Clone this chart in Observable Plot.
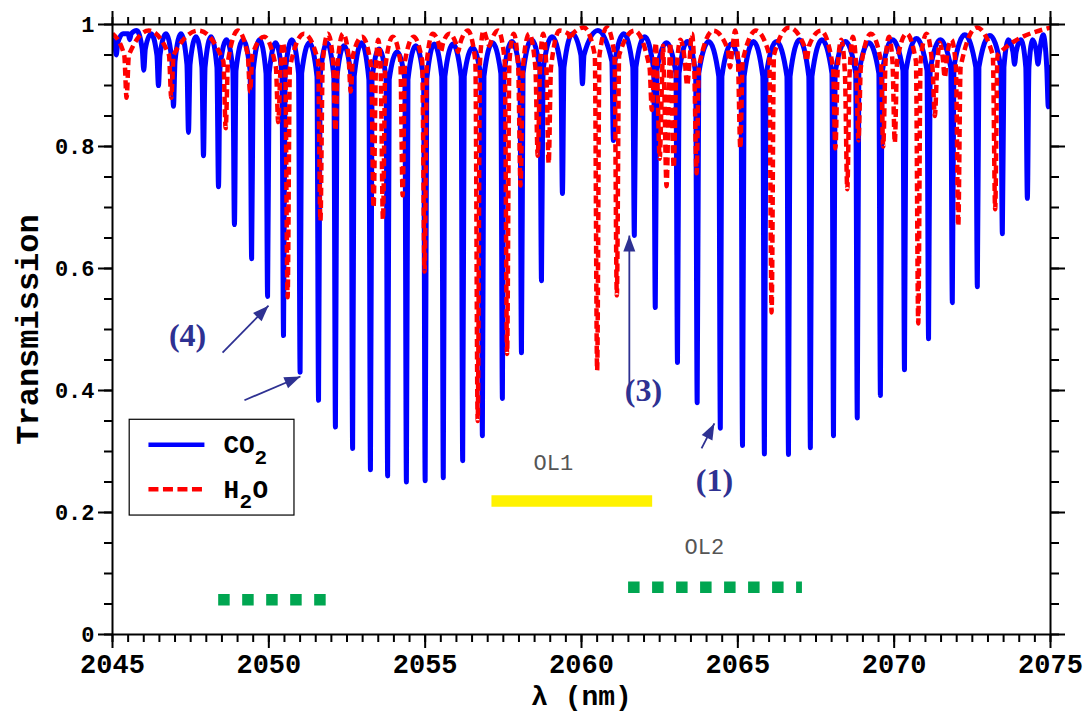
<!DOCTYPE html>
<html>
<head>
<meta charset="utf-8">
<script src="https://cdn.jsdelivr.net/npm/d3@7"></script>
<script src="https://cdn.jsdelivr.net/npm/@observablehq/plot@0.6"></script>
<style>
  body { margin: 0; background: #fff; }
  #chart svg { display: block; }
</style>
</head>
<body>
<div id="chart"></div>
<script>
// ---------- axis ticks ----------
const xMajor = [2045, 2050, 2055, 2060, 2065, 2070, 2075];
const xTickLabels = ["2045", "2050", "2055", "2060", "2065", "2070", "2075"];
const yMajor = [0, 0.2, 0.4, 0.6, 0.8, 1];
const yTickLabels = ["0", "0.2", "0.4", "0.6", "0.8", "1"];

// ---------- CO2 absorption lines (centre, minimum, wing level, maxima between lines) ----------
const co2Line = [2045.12, 2045.55, 2046.0, 2046.47, 2046.95, 2047.43, 2047.91, 2048.39, 2048.9, 2049.45,
  2049.96, 2050.47, 2051.0, 2051.59, 2052.13, 2052.68, 2053.25, 2053.8, 2054.4, 2055.0,
  2055.58, 2056.2, 2056.83, 2057.47, 2058.08, 2058.72, 2059.39, 2060.03, 2061.02, 2061.69,
  2062.36, 2063.07, 2063.7, 2064.44, 2065.15, 2065.85, 2066.62, 2067.32, 2068.06, 2068.82,
  2069.56, 2070.33, 2071.1, 2071.86, 2072.66, 2073.46, 2073.85, 2074.26, 2074.6, 2074.93];
const co2Min = [0.95, 0.975, 0.925, 0.90, 0.866, 0.823, 0.785, 0.734, 0.672, 0.616,
  0.554, 0.49, 0.43, 0.384, 0.34, 0.305, 0.27, 0.26, 0.25, 0.252,
  0.257, 0.285, 0.326, 0.387, 0.462, 0.58, 0.723, 0.903, 0.81, 0.654,
  0.536, 0.446, 0.38, 0.338, 0.31, 0.296, 0.295, 0.306, 0.326, 0.355,
  0.392, 0.434, 0.485, 0.544, 0.57, 0.657, 0.935, 0.715, 0.935, 0.865];
const co2Wing = [0.97, 0.985, 0.96, 0.95, 0.94, 0.935, 0.93, 0.93, 0.925, 0.925,
  0.92, 0.92, 0.92, 0.915, 0.915, 0.915, 0.91, 0.91, 0.91, 0.91,
  0.915, 0.915, 0.915, 0.92, 0.92, 0.925, 0.93, 0.95, 0.94, 0.93,
  0.925, 0.92, 0.92, 0.915, 0.915, 0.915, 0.915, 0.915, 0.92, 0.92,
  0.92, 0.925, 0.925, 0.93, 0.93, 0.93, 0.955, 0.93, 0.955, 0.93];
const co2Top = [0.975, 0.985, 0.99, 0.985, 0.985, 0.985, 0.98, 0.98, 0.975, 0.975,
  0.975, 0.97, 0.975, 0.97, 0.97, 0.965, 0.97, 0.96, 0.955, 0.965,
  0.968, 0.968, 0.962, 0.97, 0.972, 0.975, 0.98, 0.985, 0.99, 0.985,
  0.98, 0.97, 0.972, 0.972, 0.968, 0.972, 0.972, 0.975, 0.975, 0.972,
  0.97, 0.975, 0.977, 0.975, 0.983, 0.982, 0.975, 0.975, 0.975, 0.983, 0.9];

// ---------- H2O absorption lines ----------
const h2oLine = [2045.45, 2046.88, 2048.62, 2049.4, 2050.3, 2050.6, 2051.65, 2052.13, 2052.62, 2053.35,
  2053.65, 2054.28, 2054.98, 2055.5, 2056.05, 2056.68, 2057.05, 2057.62, 2058.05, 2058.6,
  2058.95, 2059.65, 2060.5, 2061.13, 2062.25, 2062.5, 2062.72, 2062.95, 2063.38, 2063.68,
  2064.75, 2065.08, 2066.08, 2067.2, 2068.12, 2068.5, 2068.86, 2069.65, 2070.02, 2070.77,
  2071.3, 2071.62, 2072.05, 2073.23];
const h2oMin = [0.88, 0.88, 0.83, 0.89, 0.84, 0.553, 0.678, 0.826, 0.89, 0.70,
  0.68, 0.72, 0.595, 0.955, 0.955, 0.35, 0.965, 0.46, 0.736, 0.785,
  0.772, 0.975, 0.433, 0.556, 0.86, 0.78, 0.735, 0.765, 0.9, 0.756,
  0.93, 0.797, 0.528, 0.94, 0.797, 0.73, 0.81, 0.80, 0.806, 0.51,
  0.85, 0.913, 0.67, 0.697];
const h2oWing = [0.95, 0.95, 0.94, 0.95, 0.93, 0.93, 0.94, 0.94, 0.95, 0.93,
  0.93, 0.94, 0.94, 0.97, 0.97, 0.94, 0.975, 0.94, 0.93, 0.93,
  0.93, 0.985, 0.95, 0.95, 0.93, 0.91, 0.9, 0.91, 0.94, 0.93,
  0.96, 0.94, 0.95, 0.965, 0.93, 0.92, 0.93, 0.94, 0.94, 0.94,
  0.93, 0.95, 0.93, 0.95];
const h2oTop = [0.985, 0.99, 0.99, 0.99, 0.98, 0.97, 0.985, 0.985, 0.985, 0.98,
  0.975, 0.98, 0.98, 0.985, 0.985, 0.99, 0.99, 0.99, 0.985, 0.985,
  0.985, 0.99, 0.995, 0.995, 0.99, 0.97, 0.965, 0.97, 0.975, 0.985,
  0.99, 0.99, 0.99, 0.995, 0.99, 0.975, 0.98, 0.985, 0.98, 0.985,
  0.985, 0.97, 0.975, 0.995, 0.995];

// ---------- laser bands ----------
const bandName = ["OL1", "OL2"];
const bandStart = [2057.12, 2061.49, 2048.38];
const bandEnd = [2062.26, 2067.05, 2051.82];
const bandLevel = [0.219, 0.0775, 0.057];
const bandColor = ["#fff200", "#00a651", "#00a651"];
const bandLabelX = [2059.1, 2063.93];
const bandLabelY = [0.282, 0.143];

// ---------- annotations ----------
const noteText = ["(4)", "(3)", "(1)"];
const noteX = [2047.4, 2061.98, 2064.25];
const noteY = [0.49, 0.40, 0.252];
const arrowX1 = [2048.52, 2049.22, 2061.53, 2063.84];
const arrowY1 = [0.462, 0.384, 0.41, 0.305];
const arrowX2 = [2049.99, 2051.01, 2061.53, 2064.25];
const arrowY2 = [0.539, 0.423, 0.654, 0.346];

// ---------- legend ----------
const legendBoxX = [2045.55, 2050.82];
const legendBoxY = [0.195, 0.352];
const legendSampleX = [2046.15, 2047.94];
const legendRowY = [0.311, 0.238];
const legendTextX = 2048.55;

// ---------- layout ----------
const W = 1090, H = 720, ML = 112, MR = 40, MT = 24, MB = 86;
const MONO = "'Liberation Mono', 'DejaVu Sans Mono', monospace";
const SERIF = "'Liberation Serif', 'DejaVu Serif', serif";
const NAVY = "#2e3192";

function spectrum(centers, mins, wings, tops, hw) {
  const pts = [{x: xMajor[0], y: tops[0]}];
  centers.forEach((c, i) => {
    pts.push({x: c - hw, y: wings[i]});
    pts.push({x: c, y: mins[i]});
    pts.push({x: c + hw, y: wings[i]});
    const nx = i + 1 < centers.length ? (c + centers[i + 1]) / 2 : xMajor[xMajor.length - 1];
    pts.push({x: nx, y: tops[i + 1]});
  });
  return pts;
}
const co2 = spectrum(co2Line, co2Min, co2Wing, co2Top, 0.05);
const h2o = spectrum(h2oLine, h2oMin, h2oWing, h2oTop, 0.075);

const bands = bandStart.map((s, i) => ({x1: s, x2: bandEnd[i], y: bandLevel[i], c: bandColor[i]}));
const bandLabels = bandLabelX.map((x, i) => ({x, y: bandLabelY[i], t: bandName[i]}));
const notes = noteText.map((t, i) => ({t, x: noteX[i], y: noteY[i]}));

const kx = (W - ML - MR) / (xMajor[xMajor.length - 1] - xMajor[0]);
const ky = (H - MT - MB);
const arrows = arrowX1.map((x1, i) => {
  const sx = (arrowX2[i] - x1) * kx, sy = -(arrowY2[i] - arrowY1[i]) * ky;
  return {x1, y1: arrowY1[i], x2: arrowX2[i], y2: arrowY2[i], angle: Math.atan2(sx, -sy) * 180 / Math.PI};
});
const head = {draw(ctx) { ctx.moveTo(0, 0); ctx.lineTo(-6, 16); ctx.lineTo(6, 16); ctx.closePath(); }};

const xMinor = d3.range(xMajor[0], xMajor[xMajor.length - 1] + 0.001, 0.5);
const yMinor = d3.range(0, 1.0001, 0.05);

const legendBox = [{x1: legendBoxX[0], x2: legendBoxX[1], y1: legendBoxY[0], y2: legendBoxY[1]}];
const legendRows = legendRowY.map((y) => ({x1: legendSampleX[0], x2: legendSampleX[1], y, tx: legendTextX}));

const axisCommon = {label: null, stroke: "black", strokeWidth: 2};
const RED_DASH = "8,4.5";

const chart = Plot.plot({
  width: W, height: H,
  marginLeft: ML, marginRight: MR, marginTop: MT, marginBottom: MB,
  x: {domain: [xMajor[0], xMajor[xMajor.length - 1]]},
  y: {domain: [0, 1]},
  style: {background: "white", fontFamily: MONO},
  marks: [
    // spectra
    Plot.line(co2, {x: "x", y: "y", stroke: "#0000ff", strokeWidth: 5, curve: "monotone-x", clip: true}),
    Plot.line(h2o, {x: "x", y: "y", stroke: "#ff0000", strokeWidth: 4.5, strokeDasharray: RED_DASH,
      strokeLinecap: "butt", strokeLinejoin: "miter", curve: "monotone-x", clip: true}),
    // bands
    Plot.link(bands.slice(0, 1), {x1: "x1", x2: "x2", y1: "y", y2: "y", stroke: "c", strokeWidth: 11.5, strokeLinecap: "butt"}),
    Plot.link(bands.slice(1), {x1: "x1", x2: "x2", y1: "y", y2: "y", stroke: "c", strokeWidth: 11.5,
      strokeDasharray: "11.5,12.5", strokeLinecap: "butt"}),
    Plot.text(bandLabels, {x: "x", y: "y", text: "t", fill: "#555", fontSize: 22, fontFamily: MONO}),
    // annotations
    Plot.link(arrows, {x1: "x1", y1: "y1", x2: "x2", y2: "y2", stroke: NAVY, strokeWidth: 1.8}),
    Plot.dot(arrows, {x: "x2", y: "y2", symbol: head, rotate: "angle", fill: NAVY, stroke: "none"}),
    Plot.text(notes, {x: "x", y: "y", text: "t", fill: NAVY, fontSize: 32, fontWeight: "bold", fontFamily: SERIF}),
    // legend
    Plot.rect(legendBox, {x1: "x1", x2: "x2", y1: "y1", y2: "y2", fill: "white", stroke: "black", strokeWidth: 1.2}),
    Plot.link(legendRows.slice(0, 1), {x1: "x1", x2: "x2", y1: "y", y2: "y", stroke: "#0000ff", strokeWidth: 4.5}),
    Plot.link(legendRows.slice(1, 2), {x1: "x1", x2: "x2", y1: "y", y2: "y", stroke: "#ff0000", strokeWidth: 4.5,
      strokeDasharray: "10,4.5", strokeLinecap: "butt"}),
    Plot.text(legendRows.slice(0, 1), {x: "tx", y: "y", text: () => "CO", textAnchor: "start", fontSize: 26, fontWeight: "bold", fontFamily: MONO}),
    Plot.text(legendRows.slice(0, 1), {x: "tx", y: "y", text: () => "2", textAnchor: "start", dx: 31, dy: 12, fontSize: 21, fontWeight: "bold", fontFamily: MONO}),
    Plot.text(legendRows.slice(1, 2), {x: "tx", y: "y", text: () => "H", textAnchor: "start", fontSize: 26, fontWeight: "bold", fontFamily: MONO}),
    Plot.text(legendRows.slice(1, 2), {x: "tx", y: "y", text: () => "2", textAnchor: "start", dx: 16, dy: 12, fontSize: 21, fontWeight: "bold", fontFamily: MONO}),
    Plot.text(legendRows.slice(1, 2), {x: "tx", y: "y", text: () => "O", textAnchor: "start", dx: 29, fontSize: 26, fontWeight: "bold", fontFamily: MONO}),
    // axes
    Plot.axisX({...axisCommon, anchor: "bottom", ticks: xMajor, tickSize: 14, tickPadding: 5,
      tickFormat: (d) => xTickLabels[xMajor.indexOf(d)], fontSize: 27, fontWeight: "bold", fontFamily: MONO}),
    Plot.axisX({...axisCommon, anchor: "bottom", ticks: xMinor, tickSize: 8, text: null}),
    Plot.axisX({...axisCommon, anchor: "top", ticks: xMajor, tickSize: 14, text: null}),
    Plot.axisX({...axisCommon, anchor: "top", ticks: xMinor, tickSize: 8, text: null}),
    Plot.axisY({...axisCommon, anchor: "left", ticks: yMajor, tickSize: 14, tickPadding: 4,
      tickFormat: (d) => yTickLabels[yMajor.indexOf(d)], fontSize: 22, fontWeight: "bold", fontFamily: MONO}),
    Plot.axisY({...axisCommon, anchor: "left", ticks: yMinor, tickSize: 8, text: null}),
    Plot.axisY({...axisCommon, anchor: "right", ticks: yMajor, tickSize: 14, text: null}),
    Plot.axisY({...axisCommon, anchor: "right", ticks: yMinor, tickSize: 8, text: null}),
    Plot.frame({stroke: "black", strokeWidth: 2}),
    Plot.text(["Transmission"], {frameAnchor: "left", textAnchor: "middle", rotate: -90, dx: -85, fontSize: 32, fontWeight: "bold", fontFamily: MONO}),
    Plot.text(["λ (nm)"], {frameAnchor: "bottom", textAnchor: "middle", dy: 70, fontSize: 28, fontWeight: "bold", fontFamily: MONO})
  ]
});
document.getElementById("chart").appendChild(chart);
</script>
</body>
</html>
